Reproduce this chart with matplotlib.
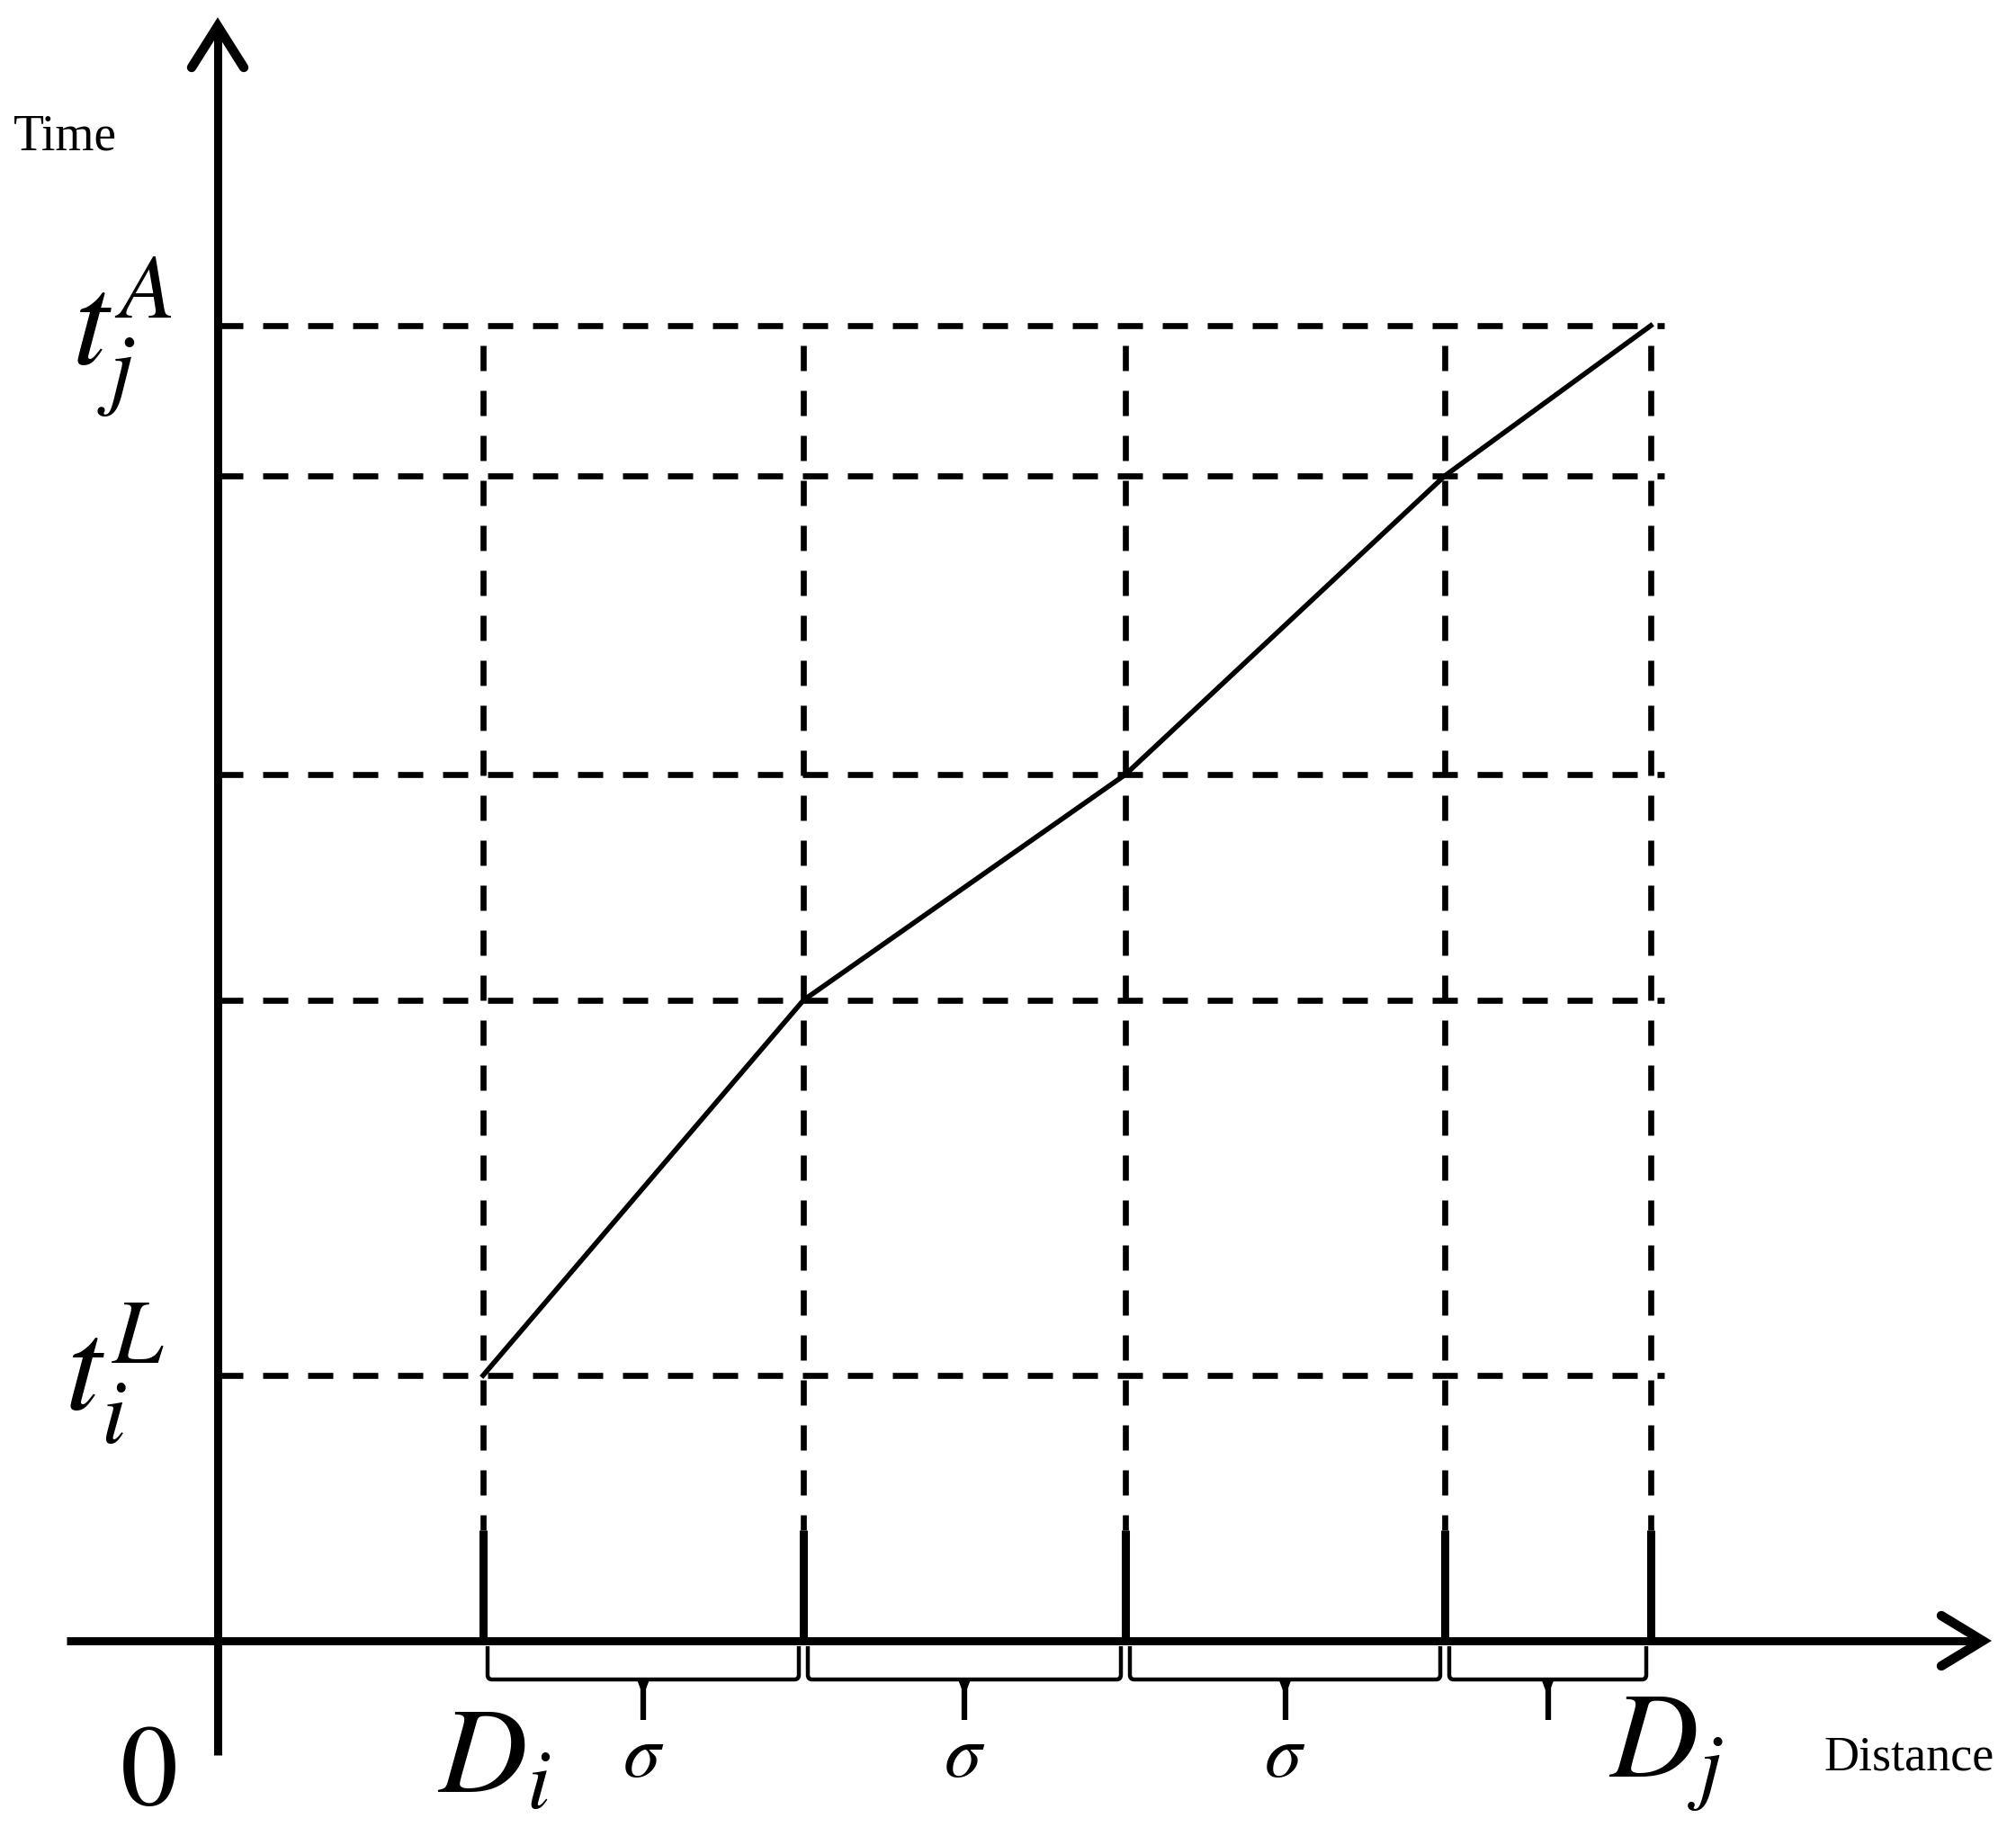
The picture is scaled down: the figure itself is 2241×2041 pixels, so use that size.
import numpy as np
import matplotlib
matplotlib.use('Agg')
import matplotlib.pyplot as plt
from matplotlib.path import Path
from matplotlib.patches import PathPatch, Polygon

plt.rcParams['mathtext.fontset'] = 'stix'

# positions along the route (D_i, three sigma steps, D_j) and the times reached there
dist = [2.95, 6.51, 10.09, 13.64, 15.93]
times = [2.95, 7.12, 9.63, 12.95, 14.62]
dist_labels = ['$D_i$', '$D_j$']
time_labels = ['$t_i^L$', '$t_j^A$']
step_labels = [r'$\sigma$', r'$\sigma$', r'$\sigma$', '']
x_name = 'Distance'
y_name = 'Time'

fig = plt.figure(figsize=(22.41, 20.41), dpi=100, facecolor='white')
ax = fig.add_axes([0, 0, 1, 1])
ax.set_xlim(-2.42, 19.99)
ax.set_ylim(-2.17, 18.24)
ax.axis('off')

axis_lw = 6.5
dash_lw = 4.8
dash = (4.2, 3.3)

# axes with open arrow heads
x_tip, y_tip = 19.71, 18.04
ax.plot([-1.68, x_tip - 0.1], [0, 0], color='black', lw=axis_lw, solid_capstyle='butt', zorder=3)
ax.plot([0, 0], [-1.27, y_tip - 0.1], color='black', lw=axis_lw, solid_capstyle='butt', zorder=3)
ax.plot([x_tip - 0.55, x_tip - 0.09, x_tip - 0.55], [0.28, 0, -0.28], color='black', lw=7.5,
        solid_joinstyle='miter', solid_capstyle='round', zorder=3)
ax.plot([-0.29, 0, 0.29], [y_tip - 0.55, y_tip - 0.09, y_tip - 0.55], color='black', lw=7.5,
        solid_joinstyle='miter', solid_capstyle='round', zorder=3)

# dashed guide lines
x_end = dist[-1] + 0.15
tick_top = 1.23
for t in times:
    ax.plot([0, x_end], [t, t], color='black', lw=dash_lw, linestyle=(0, dash),
            dash_capstyle='butt', zorder=2)
for d in dist:
    ax.plot([d, d], [times[-1], tick_top], color='black', lw=dash_lw,
            linestyle=(dash[0], dash), dash_capstyle='butt', zorder=2)
    ax.plot([d, d], [tick_top, 0], color='black', lw=axis_lw, solid_capstyle='butt', zorder=3)

# time-distance line
ax.plot(dist, times, color='black', lw=4, solid_joinstyle='miter', zorder=4)

# braces under the distance axis
y_top, y_bar, y_cusp, r, inset = -0.06, -0.43, -0.88, 0.05, 0.05
for x0, x1, lab in zip(dist[:-1], dist[1:], step_labels):
    a, b, m = x0 + inset, x1 - inset, (x0 + x1) / 2
    verts = [(a, y_top), (a, y_bar + r), (a, y_bar), (a + r, y_bar),
             (b - r, y_bar), (b, y_bar), (b, y_bar + r), (b, y_top)]
    codes = [Path.MOVETO, Path.LINETO, Path.CURVE3, Path.CURVE3,
             Path.LINETO, Path.CURVE3, Path.CURVE3, Path.LINETO]
    ax.add_patch(PathPatch(Path(verts, codes), facecolor='none', edgecolor='black', lw=3.2))
    ax.add_patch(Polygon([(m - 0.07, y_bar), (m + 0.07, y_bar), (m + 0.025, y_bar - 0.12),
                          (m - 0.025, y_bar - 0.12)], closed=True, facecolor='black', edgecolor='none'))
    ax.plot([m, m], [y_bar, y_cusp], color='black', lw=4.5, solid_capstyle='butt')
    if lab:
        ax.text(m, -1.51, lab, fontsize=60, ha='center', va='baseline')

# labels
ax.text(dist[0] - 0.51, -1.69, dist_labels[0], fontsize=98, ha='left', va='baseline')
ax.text(dist[-1] - 0.47, -1.52, dist_labels[1], fontsize=98, ha='left', va='baseline')
ax.text(-1.70, times[0] - 0.37, time_labels[0], fontsize=104, ha='left', va='baseline')
ax.text(-1.62, times[-1] - 0.43, time_labels[1], fontsize=104, ha='left', va='baseline')
ax.text(-0.78, -1.82, '$0$', fontsize=92, ha='center', va='baseline')
ax.text(-2.27, 16.57, y_name, fontsize=40, family='Liberation Serif', ha='left', va='baseline')
ax.text(17.85, -1.44, x_name, fontsize=39, family='Liberation Serif', ha='left', va='baseline')

fig.savefig('out.png', dpi=100, facecolor='white')
plt.close(fig)
